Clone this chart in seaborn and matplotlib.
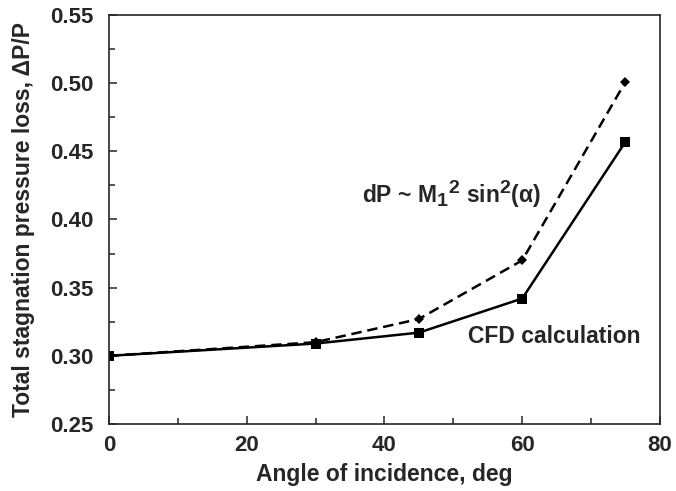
import numpy as np
import matplotlib
matplotlib.use("Agg")
import matplotlib.pyplot as plt
import matplotlib._mathtext as mathtext_impl
import seaborn as sns
from matplotlib.ticker import MultipleLocator, FormatStrFormatter

# angles of incidence (deg)
angle = [0, 30, 45, 60, 75]
# CFD calculation
cfd_loss = [0.300, 0.309, 0.317, 0.342, 0.457]
# simple estimate dP ~ M1^2 sin^2(alpha)
est_loss = [0.300, 0.310, 0.327, 0.370, 0.501]

sns.set_style("ticks")
plt.rcParams["font.family"] = ["Liberation Sans", "DejaVu Sans"]
plt.rcParams["font.weight"] = "bold"
plt.rcParams["mathtext.fontset"] = "custom"
plt.rcParams["mathtext.rm"] = "Liberation Sans:bold"
plt.rcParams["mathtext.it"] = "Liberation Sans:bold"
plt.rcParams["mathtext.bf"] = "Liberation Sans:bold"
# scripts in the original are nearly full size
mathtext_impl.SHRINK_FACTOR = 0.85

fig = plt.figure(figsize=(6.76, 4.91), dpi=100)
ax = fig.add_axes([0.1612, 0.1365, 0.815, 0.833])

sns.lineplot(x=angle, y=est_loss, ax=ax, color="black", linewidth=1.8,
             linestyle=(0, (4.2, 2.3)), marker="D", markersize=5,
             markeredgewidth=0)
sns.lineplot(x=angle, y=cfd_loss, ax=ax, color="black", linewidth=1.8,
             marker="s", markersize=7, markeredgewidth=0)

ax.set_xlim(0, 80)
ax.set_ylim(0.25, 0.55)
ax.xaxis.set_major_locator(MultipleLocator(20))
ax.xaxis.set_minor_locator(MultipleLocator(10))
ax.yaxis.set_major_locator(MultipleLocator(0.05))
ax.yaxis.set_minor_locator(MultipleLocator(0.025))
ax.yaxis.set_major_formatter(FormatStrFormatter("%.2f"))
ax.tick_params(which="both", direction="in", width=1.1, labelsize=16)
ax.tick_params(axis="x", pad=8)
ax.tick_params(axis="y", pad=11)
ax.tick_params(which="major", length=6)
ax.tick_params(which="minor", length=4)
for s in ax.spines.values():
    s.set_linewidth(1.2)

ax.set_xlabel("Angle of incidence, deg", fontsize=16.5, fontweight="bold",
              labelpad=5)
ax.set_ylabel("Total stagnation pressure loss, ΔP/P", fontsize=16.5,
              fontweight="bold", labelpad=11)

ax.text(36.7, 0.419, r"dP ~ M$_1$$^2$ sin$^2$($\alpha$)", fontsize=16.5,
        fontweight="bold", va="center", ha="left")
ax.text(52.1, 0.3145, "CFD calculation", fontsize=16.5, fontweight="bold",
        va="center", ha="left")

fig.savefig("out.png", dpi=100)
